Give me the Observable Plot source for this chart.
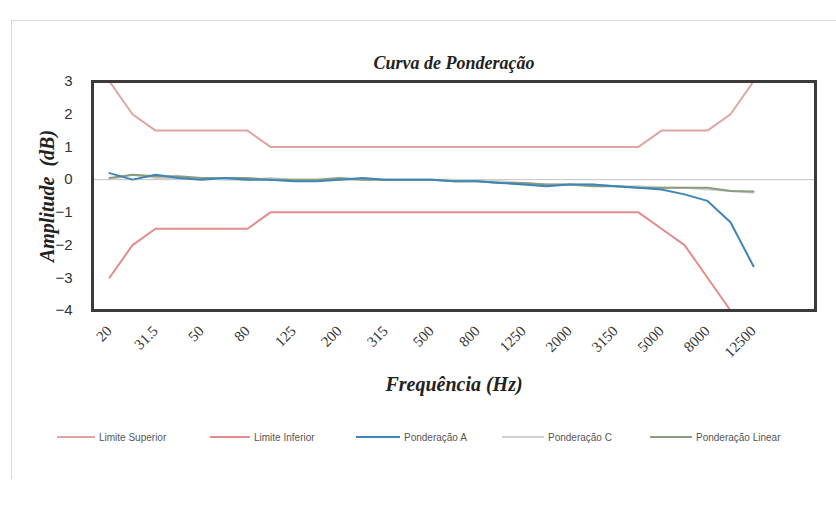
<!DOCTYPE html>
<html>
<head>
<meta charset="utf-8">
<script src="https://cdn.jsdelivr.net/npm/d3@7"></script>
<script src="https://cdn.jsdelivr.net/npm/@observablehq/plot@0.6"></script>
<style>
  html, body { margin: 0; padding: 0; background: #fff; }
  #wrap { position: relative; width: 836px; height: 506px; overflow: hidden; background: #fff; }
  #outer { position: absolute; left: 11px; top: 20px; width: 840px; height: 458px; border-top: 1px solid #d8d8d8; border-left: 1px solid #d8d8d8; }
  #chart { position: absolute; left: 0; top: 0; }
  #legend { position: absolute; left: 0; top: 420px; width: 836px; height: 86px; font-family: "Liberation Sans", Arial, sans-serif; font-size: 10px; color: #555; }
  .item { position: absolute; top: 10px; height: 14px; display: flex; align-items: center; white-space: nowrap; }
  .item .sw { display: inline-block; height: 2px; margin-right: 4px; }
</style>
</head>
<body>
<div id="wrap">
  <div id="outer"></div>
  <div id="chart"></div>
  <div id="legend"></div>
</div>
<script>
// Categories (third-octave band centre frequencies, Hz)
const categories = ["20","25","31.5","40","50","63","80","100","125","160","200","250","315","400","500","630","800","1000","1250","1600","2000","2500","3150","4000","5000","6300","8000","10000","12500","16000","20000"];
const tickLabels = ["20","31.5","50","80","125","200","315","500","800","1250","2000","3150","5000","8000","12500"];
const yTicks = [-4,-3,-2,-1,0,1,2,3];

// Series values (dB), 20 Hz .. 12500 Hz
const limiteSuperior = [3,2,1.5,1.5,1.5,1.5,1.5,1,1,1,1,1,1,1,1,1,1,1,1,1,1,1,1,1,1.5,1.5,1.5,2,3];
const limiteInferior = [-3,-2,-1.5,-1.5,-1.5,-1.5,-1.5,-1,-1,-1,-1,-1,-1,-1,-1,-1,-1,-1,-1,-1,-1,-1,-1,-1,-1.5,-2,-3,-4,-6];
const ponderacaoA = [0.2,0.0,0.15,0.05,0.0,0.05,0.0,0.0,-0.05,-0.05,0.0,0.05,0.0,0.0,0.0,-0.05,-0.05,-0.1,-0.15,-0.2,-0.15,-0.15,-0.2,-0.25,-0.3,-0.45,-0.65,-1.3,-2.65];
const ponderacaoC = [0.0,0.15,0.05,0.05,0.05,0.0,0.0,0.05,0.0,0.0,0.0,0.0,0.0,0.0,0.0,0.0,-0.05,-0.05,-0.1,-0.15,-0.15,-0.15,-0.2,-0.2,-0.25,-0.25,-0.3,-0.35,-0.4];
const ponderacaoLinear = [0.05,0.15,0.1,0.1,0.05,0.05,0.05,0.0,0.0,0.0,0.05,0.0,0.0,0.0,0.0,-0.05,-0.05,-0.1,-0.1,-0.15,-0.15,-0.2,-0.2,-0.25,-0.25,-0.25,-0.25,-0.35,-0.36];

const seriesNames = ["Limite Superior","Limite Inferior","Ponderação A","Ponderação C","Ponderação Linear"];
const seriesColors = ["#e0a4a2","#e48c8c","#3d86b6","#cdd0d0","#8e9c7e"];
const seriesValues = [limiteSuperior, limiteInferior, ponderacaoA, ponderacaoC, ponderacaoLinear];

const toRows = (vals) => vals.map((v, i) => ({x: categories[i], y: v}));
const serif = "'Liberation Serif', 'Times New Roman', serif";

const lineMarks = [3, 4, 0, 1, 2].map(k =>
  Plot.line(toRows(seriesValues[k]), {x: "x", y: "y", stroke: seriesColors[k], strokeWidth: 2, clip: true})
);

const chart = Plot.plot({
  width: 836,
  height: 420,
  marginLeft: 92,
  marginRight: 21,
  marginTop: 81,
  marginBottom: 110,
  x: {type: "point", domain: categories, padding: 0.5},
  y: {domain: [-4, 3]},
  style: {background: "transparent"},
  marks: [
    Plot.ruleY([0], {stroke: "#c4c4c4", strokeWidth: 1}),
    ...lineMarks,
    Plot.frame({stroke: "#3a3a3a", strokeWidth: 3}),
    Plot.axisY({ticks: yTicks, tickFormat: d3.format("d"), tickSize: 0, tickPadding: 20, fontSize: 15, label: null, fill: "#333", fontFamily: "'Liberation Sans', Arial, sans-serif"}),
    Plot.axisX({ticks: tickLabels, tickSize: 0, tickPadding: 18, tickRotate: -45, fontSize: 15, label: null, fill: "#333", fontFamily: serif}),
    Plot.text(["Curva de Ponderação"], {text: d => d, frameAnchor: "top", dy: -25, fontSize: 18, fontStyle: "italic", fontWeight: "bold", fontFamily: serif, fill: "#222"}),
    Plot.text(["Frequência (Hz)"], {text: d => d, frameAnchor: "bottom", dy: 80, fontSize: 20, fontStyle: "italic", fontWeight: "bold", fontFamily: serif, fill: "#222"}),
    Plot.text(["Amplitude  (dB)"], {text: d => d, frameAnchor: "left", textAnchor: "middle", dx: -45, rotate: -90, fontSize: 20, fontStyle: "italic", fontWeight: "bold", fontFamily: serif, fill: "#222"})
  ]
});
document.getElementById("chart").appendChild(chart);

// Legend
const legendPos = [[57, 38], [210, 40], [356, 44], [502, 42], [650, 42]];
const legend = document.getElementById("legend");
seriesNames.forEach((name, i) => {
  const item = document.createElement("div");
  item.className = "item";
  item.style.left = legendPos[i][0] + "px";
  const sw = document.createElement("span");
  sw.className = "sw";
  sw.style.width = legendPos[i][1] + "px";
  sw.style.background = seriesColors[i];
  const label = document.createElement("span");
  label.textContent = name;
  item.appendChild(sw);
  item.appendChild(label);
  legend.appendChild(item);
});
</script>
</body>
</html>
